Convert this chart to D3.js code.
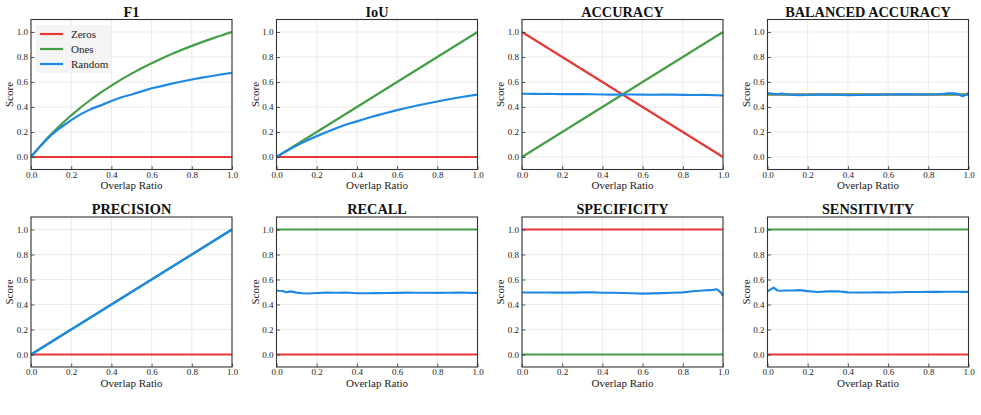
<!DOCTYPE html>
<html>
<head>
<meta charset="utf-8">
<script src="https://cdn.jsdelivr.net/npm/d3@7"></script>
<style>
  body { margin: 0; background: #fff; }
  svg text { font-family: "Liberation Serif", "Times New Roman", "DejaVu Serif", serif; }
</style>
</head>
<body>
<div id="chart"></div>
<script>
// overlap ratios used by the curved / noisy series
const ratios = [0, 0.01, 0.03, 0.05, 0.07, 0.1, 0.13, 0.16, 0.2, 0.25, 0.3, 0.35, 0.4, 0.45, 0.5,
                0.55, 0.6, 0.65, 0.7, 0.75, 0.8, 0.85, 0.9, 0.93, 0.95, 0.97, 0.99, 1.0];
// straight lines only need their end points
const ends = [0, 1];

const seriesNames = ["Zeros", "Ones", "Random"];
const metricTitles = ["F1", "IoU", "ACCURACY", "BALANCED ACCURACY", "PRECISION", "RECALL", "SPECIFICITY", "SENSITIVITY"];
const xTicks = [0, 0.2, 0.4, 0.6, 0.8, 1.0];
const yTicks = [0, 0.2, 0.4, 0.6, 0.8, 1.0];

// F1
const f1Zeros = [0, 0];
const f1Ones = [0, 0.020, 0.058, 0.095, 0.131, 0.182, 0.230, 0.276, 0.333, 0.400, 0.462, 0.519, 0.571, 0.621,
                0.667, 0.710, 0.750, 0.788, 0.824, 0.857, 0.889, 0.919, 0.947, 0.964, 0.974, 0.985, 0.995, 1.0];
const f1Random = [0.005, 0.020, 0.057, 0.093, 0.127, 0.175, 0.215, 0.250, 0.295, 0.345, 0.385, 0.415, 0.448, 0.478,
                  0.500, 0.525, 0.550, 0.567, 0.587, 0.604, 0.620, 0.635, 0.648, 0.656, 0.661, 0.666, 0.671, 0.674];
// IoU
const iouZeros = [0, 0];
const iouOnes = [0, 1];
const iouRandom = [0, 0.010, 0.029, 0.048, 0.065, 0.091, 0.115, 0.138, 0.167, 0.200, 0.232, 0.262, 0.285, 0.310,
                   0.333, 0.354, 0.375, 0.394, 0.412, 0.428, 0.444, 0.460, 0.474, 0.482, 0.487, 0.492, 0.497, 0.500];
// Accuracy
const accZeros = [1, 0];
const accOnes = [0, 1];
const accRandom = [0.507, 0.506, 0.506, 0.505, 0.505, 0.504, 0.505, 0.504, 0.503, 0.504, 0.503, 0.502, 0.500, 0.499,
                   0.500, 0.500, 0.499, 0.498, 0.500, 0.499, 0.497, 0.496, 0.497, 0.496, 0.495, 0.494, 0.493, 0.493];
// Balanced accuracy
const balZeros = [0.5, 0.5];
const balOnes = [0.5, 0.5];
const balRandom = [0.513, 0.510, 0.505, 0.502, 0.507, 0.500, 0.497, 0.494, 0.496, 0.500, 0.499, 0.498, 0.495, 0.496,
                   0.497, 0.498, 0.500, 0.502, 0.501, 0.500, 0.500, 0.502, 0.510, 0.509, 0.503, 0.485, 0.500, 0.512];
// Precision
const precZeros = [0, 0];
const precOnes = [0, 1];
const precRandom = [0, 0.010, 0.030, 0.050, 0.070, 0.100, 0.130, 0.160, 0.200, 0.250, 0.300, 0.350, 0.400, 0.450,
                    0.500, 0.550, 0.600, 0.650, 0.700, 0.750, 0.800, 0.850, 0.900, 0.930, 0.950, 0.970, 0.990, 1.0];
// Recall
const recZeros = [0, 0];
const recOnes = [1, 1];
const recRandom = [0.512, 0.510, 0.508, 0.498, 0.505, 0.495, 0.490, 0.488, 0.492, 0.495, 0.494, 0.496, 0.490, 0.490,
                   0.491, 0.492, 0.493, 0.495, 0.494, 0.494, 0.493, 0.494, 0.496, 0.495, 0.494, 0.493, 0.493, 0.493];
// Specificity
const specZeros = [1, 1];
const specOnes = [0, 0];
const specRandom = [0.496, 0.496, 0.496, 0.496, 0.496, 0.496, 0.496, 0.495, 0.496, 0.495, 0.497, 0.498, 0.494, 0.494,
                    0.492, 0.490, 0.487, 0.489, 0.491, 0.494, 0.497, 0.506, 0.512, 0.515, 0.517, 0.522, 0.495, 0.472];
// Sensitivity
const sensZeros = [0, 0];
const sensOnes = [1, 1];
const sensRandom = [0.505, 0.515, 0.535, 0.512, 0.510, 0.512, 0.512, 0.515, 0.507, 0.500, 0.505, 0.506, 0.497, 0.496,
                    0.496, 0.497, 0.496, 0.498, 0.500, 0.500, 0.501, 0.501, 0.502, 0.502, 0.502, 0.501, 0.501, 0.501];

// table the drawing code walks through: [x values, y values] per series
const panels = [
  [[ends, f1Zeros], [ratios, f1Ones], [ratios, f1Random]],
  [[ends, iouZeros], [ends, iouOnes], [ratios, iouRandom]],
  [[ends, accZeros], [ends, accOnes], [ratios, accRandom]],
  [[ends, balZeros], [ends, balOnes], [ratios, balRandom]],
  [[ends, precZeros], [ends, precOnes], [ratios, precRandom]],
  [[ends, recZeros], [ends, recOnes], [ratios, recRandom]],
  [[ends, specZeros], [ends, specOnes], [ratios, specRandom]],
  [[ends, sensZeros], [ends, sensOnes], [ratios, sensRandom]]
];

const colors = d3.scaleOrdinal().domain(seriesNames).range(["#e53935", "#43a047", "#1e88e5"]);
const FONT = "'Liberation Serif', 'Times New Roman', 'DejaVu Serif', serif";

const W = 981, H = 415;
const plotW = 201;
const colLeft = [31, 276.5, 522, 767.5];
const rowTop = [19.5, 217];
const plotH = 150;

const svg = d3.select("#chart").append("svg")
    .attr("width", W)
    .attr("height", H)
    .attr("font-family", FONT);

metricTitles.forEach((title, i) => {
  const col = i % 4, row = Math.floor(i / 4);
  const g = svg.append("g")
      .attr("transform", `translate(${colLeft[col]},${rowTop[row]})`);

  const x = d3.scaleLinear().domain([0, 1]).range([0, plotW]);
  const y = d3.scaleLinear().domain([-0.1, 1.1]).range([plotH, 0]);

  // grid
  g.append("g").selectAll("line").data(xTicks).join("line")
      .attr("x1", d => x(d)).attr("x2", d => x(d))
      .attr("y1", 0).attr("y2", plotH)
      .attr("stroke", "#e6e6e6").attr("stroke-width", 0.8);
  g.append("g").selectAll("line").data(yTicks).join("line")
      .attr("x1", 0).attr("x2", plotW)
      .attr("y1", d => y(d)).attr("y2", d => y(d))
      .attr("stroke", "#e6e6e6").attr("stroke-width", 0.8);

  // lines
  const line = d3.line().x(d => x(d[0])).y(d => y(d[1]));
  panels[i].forEach((s, k) => {
    const pts = s[0].map((xv, j) => [xv, s[1][j]]);
    g.append("path")
        .datum(pts)
        .attr("d", line)
        .attr("fill", "none")
        .attr("stroke", colors(seriesNames[k]))
        .attr("stroke-width", 2.2)
        .attr("stroke-linejoin", "round");
  });

  // axes (ticks point inward)
  const xAxis = g.append("g")
      .attr("transform", `translate(0,${plotH})`)
      .call(d3.axisBottom(x).tickValues(xTicks).tickFormat(d3.format(".1f")).tickSize(-3.5).tickPadding(2));
  const yAxis = g.append("g")
      .call(d3.axisLeft(y).tickValues(yTicks).tickFormat(d3.format(".1f")).tickSize(-3.5).tickPadding(3));
  [xAxis, yAxis].forEach(a => {
    a.attr("font-family", FONT).attr("font-size", 9);
    a.select(".domain").remove();
    a.selectAll(".tick line").attr("stroke", "#333").attr("stroke-width", 0.8);
    a.selectAll("text").attr("fill", "#222");
  });

  // frame
  g.append("rect")
      .attr("width", plotW).attr("height", plotH)
      .attr("fill", "none")
      .attr("stroke", "#333")
      .attr("stroke-width", 1.1);

  // title and axis labels
  g.append("text")
      .attr("x", plotW / 2).attr("y", -3)
      .attr("text-anchor", "middle")
      .attr("font-size", 14.3)
      .attr("font-weight", "bold")
      .attr("fill", "#111")
      .text(title);
  g.append("text")
      .attr("x", plotW / 2).attr("y", plotH + 19.5)
      .attr("text-anchor", "middle")
      .attr("font-size", 11)
      .attr("fill", "#222")
      .text("Overlap Ratio");
  g.append("text")
      .attr("transform", `translate(-18,${plotH / 2}) rotate(-90)`)
      .attr("text-anchor", "middle")
      .attr("font-size", 11)
      .attr("fill", "#222")
      .text("Score");

  // legend only on the first panel
  if (i === 0) {
    const lg = g.append("g").attr("transform", "translate(5,5.5)");
    lg.append("rect")
        .attr("width", 75).attr("height", 48)
        .attr("rx", 2)
        .attr("fill", "#f3f3f3")
        .attr("fill-opacity", 0.92);
    seriesNames.forEach((name, k) => {
      const yy = 9 + k * 15;
      lg.append("line")
          .attr("x1", 4).attr("x2", 27)
          .attr("y1", yy).attr("y2", yy)
          .attr("stroke", colors(name))
          .attr("stroke-width", 2.2);
      lg.append("text")
          .attr("x", 35).attr("y", yy + 3.5)
          .attr("font-size", 11)
          .attr("fill", "#222")
          .text(name);
    });
  }
});
</script>
</body>
</html>
